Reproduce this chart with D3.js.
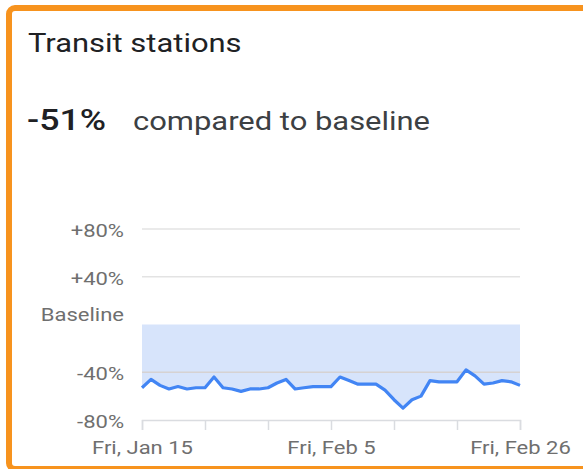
<!DOCTYPE html>
<html>
<head>
<meta charset="utf-8">
<script src="https://cdn.jsdelivr.net/npm/d3@7"></script>
<style>
  html, body { margin: 0; padding: 0; background: #fff; }
  svg { display: block; font-family: Roboto, "Noto Sans", Arial, sans-serif; }
</style>
</head>
<body>
<svg id="chart" width="583" height="469"></svg>
<script>
// Daily change in transit-station visits vs. baseline, Jan 15 – Feb 26
const startDate = new Date(2021, 0, 15);
const values = [-53, -46, -51, -54, -52, -54, -53, -53, -44, -53, -54, -56, -54, -54,
                -53, -49, -46, -54, -53, -52, -52, -52, -44, -47, -50, -50, -50, -55,
                -63, -70, -63, -60, -47, -48, -48, -48, -38, -43, -50, -49, -47, -48, -51];
const yTickValues = [80, 40, 0, -40, -80];
const yTickLabels = ["+80%", "+40%", "Baseline", "-40%", "-80%"];
const xTickLabels = ["Fri, Jan 15", "Fri, Feb 5", "Fri, Feb 26"];
const titleText = "Transit stations";
const headlineValue = values[values.length - 1];
const headlineText = "compared to baseline";

const SX = 1.19; // horizontal text stretch of this card's typography

const data = values.map((v, i) => ({ date: d3.timeDay.offset(startDate, i), value: v }));
const endDate = data[data.length - 1].date;

const svg = d3.select("#chart");

// Card frame
svg.append("rect")
  .attr("x", 9).attr("y", 8)
  .attr("width", 620).attr("height", 461)
  .attr("rx", 6)
  .attr("fill", "#fff")
  .attr("stroke", "#f7931e")
  .attr("stroke-width", 6);

// Header texts
svg.append("text")
  .attr("transform", `translate(28,52) scale(${SX},1)`)
  .attr("font-size", 26)
  .attr("fill", "#202124")
  .text(titleText);

svg.append("text")
  .attr("transform", `translate(27,130) scale(${SX},1)`)
  .attr("font-size", 30)
  .attr("font-weight", 500)
  .attr("fill", "#202124")
  .text(`${headlineValue}%`);
svg.append("text")
  .attr("transform", `translate(133,130) scale(${SX},1)`)
  .attr("font-size", 26)
  .attr("fill", "#3c4043")
  .text(headlineText);

// Scales
const x = d3.scaleTime().domain([startDate, endDate]).range([142, 520]);
const y = d3.scaleLinear().domain([-80, 80]).range([420, 229]);

// Gridlines above baseline
svg.append("g")
  .selectAll("line")
  .data(yTickValues.filter(v => v > 0))
  .join("line")
  .attr("x1", x.range()[0]).attr("x2", x.range()[1])
  .attr("y1", d => y(d)).attr("y2", d => y(d))
  .attr("stroke", "#e3e3e3")
  .attr("stroke-width", 1.5);

// Area between baseline and the series
const area = d3.area()
  .x(d => x(d.date))
  .y0(y(0))
  .y1(d => y(d.value));
svg.append("path")
  .datum(data)
  .attr("d", area)
  .attr("fill", "#d7e4fb");

// Gridline below baseline, drawn over the fill
svg.append("g")
  .selectAll("line")
  .data(yTickValues.filter(v => v < 0 && v > -80))
  .join("line")
  .attr("x1", x.range()[0]).attr("x2", x.range()[1])
  .attr("y1", d => y(d)).attr("y2", d => y(d))
  .attr("stroke", "#d6d2d2")
  .attr("stroke-width", 1.5);

// Series line
const line = d3.line()
  .x(d => x(d.date))
  .y(d => y(d.value));
svg.append("path")
  .datum(data)
  .attr("d", line)
  .attr("fill", "none")
  .attr("stroke", "#4285f4")
  .attr("stroke-width", 3.2)
  .attr("stroke-linejoin", "round");

// X axis: weekly ticks, labels every third week
const weekly = d3.timeDay.range(startDate, d3.timeDay.offset(endDate, 1), 7);
const labelFor = new Map();
weekly.forEach((d, i) => { if (i % 3 === 0) labelFor.set(+d, xTickLabels[i / 3]); });

const xAxis = svg.append("g")
  .attr("transform", `translate(0,${y(-80)})`)
  .call(d3.axisBottom(x)
    .tickValues(weekly)
    .tickSize(10)
    .tickPadding(6)
    .tickFormat(d => labelFor.get(+d) || ""));
xAxis.select(".domain").attr("stroke", "#dadce0").attr("stroke-width", 1.5);
xAxis.selectAll(".tick line").attr("stroke", "#dadce0").attr("stroke-width", 1.5);
xAxis.selectAll(".tick text")
  .attr("font-size", 18.5)
  .attr("font-family", "Roboto, sans-serif")
  .attr("fill", "#6f6f6f")
  .attr("dy", "0.95em")
  .attr("transform", `scale(${SX},1)`);

// Y labels
svg.append("g")
  .selectAll("text")
  .data(yTickValues)
  .join("text")
  .attr("transform", d => {
    const yy = d === 0 ? y(d) - 4 : y(d) + 8;
    return `translate(124,${yy}) scale(${SX},1)`;
  })
  .attr("text-anchor", "end")
  .attr("font-size", 18.5)
  .attr("fill", "#6f6f6f")
  .text((d, i) => yTickLabels[i]);
</script>
</body>
</html>
